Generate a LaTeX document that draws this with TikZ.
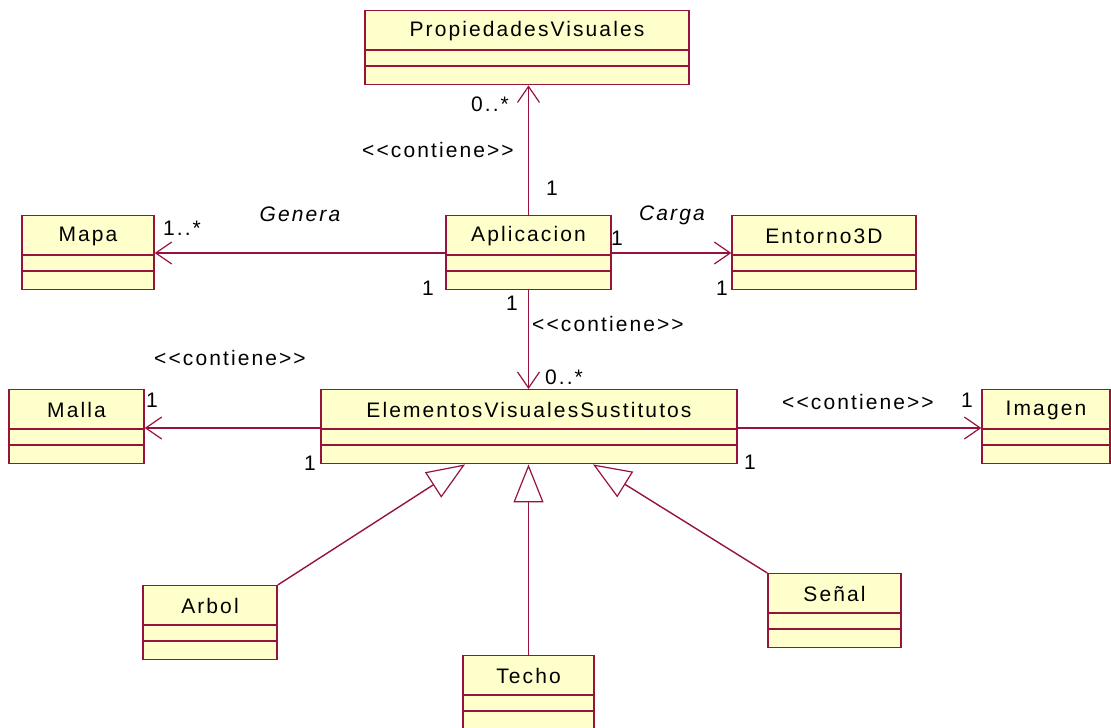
\documentclass[tikz,border=0pt]{standalone}
\usepackage{fontspec}
\setmainfont{Liberation Sans}[LetterSpace=10, Ligatures=TeXOff]
\usetikzlibrary{arrows.meta}
\definecolor{umlborder}{RGB}{150,20,60}
\definecolor{umlfill}{RGB}{255,255,204}
\tikzset{
  classbox/.style={draw=umlborder, fill=umlfill, line width=1.4pt, inner sep=0pt, anchor=north},
  compline/.style={draw=umlborder, line width=1.4pt},
  classname/.style={font=\fontsize{21}{24}\selectfont, inner sep=0pt},
  lbl/.style={font=\fontsize{21}{24}\selectfont, inner sep=0pt},
  rolelbl/.style={font=\fontsize{21}{24}\selectfont\itshape, inner sep=0pt},
  assoc/.style={draw=umlborder, line width=1.4pt,
    -{Straight Barb[length=16pt,width=22pt,line width=1.2pt]}},
  gener/.style={draw=umlborder, line width=1.4pt,
    -{Triangle[open,length=38pt,width=30pt,line width=1.2pt]}},
}
% class box: name, centre x, top y, width, title
\newcommand\umlclass[5]{%
  \node[classbox, minimum width=#4pt, minimum height=74pt] (#1) at (#2,#3) {};
  \draw[compline] ([yshift=-40pt]#1.north west) -- ([yshift=-40pt]#1.north east);
  \draw[compline] ([yshift=-56pt]#1.north west) -- ([yshift=-56pt]#1.north east);
  \node[classname] (#1-title) at ([yshift=-21pt]#1.north) {#5};
}
\begin{document}
\begin{tikzpicture}[x=1pt, y=-1pt]
\useasboundingbox (0,0) rectangle (1111,728);
\fill[white] (0,0) rectangle (1111,728);

\umlclass{prop}{527}{10}{324}{PropiedadesVisuales}
\umlclass{mapa}{88}{215}{132}{Mapa}
\umlclass{app}{528.5}{215}{165}{Aplicacion}
\umlclass{ent}{824}{215}{184}{Entorno3D}
\umlclass{malla}{76.5}{389}{135}{Malla}
\umlclass{evs}{529}{389}{416}{ElementosVisualesSustitutos}
\umlclass{img}{1046}{389}{128}{Imagen}
\umlclass{arbol}{210}{585}{134}{Arbol}
\umlclass{techo}{528.5}{655}{131}{Techo}
\umlclass{senal}{834.5}{573}{133}{Señal}

% associations
\draw[assoc] (app.north) -- (app.north |- prop.south);
\draw[assoc] ([yshift=-38pt]app.north west) -- ([yshift=-38pt]mapa.north east);
\draw[assoc] ([yshift=-38pt]app.north east) -- ([yshift=-38pt]ent.north west);
\draw[assoc] (app.south) -- (app.south |- evs.north);
\draw[assoc] ([yshift=-39pt]evs.north west) -- ([yshift=-39pt]malla.north east);
\draw[assoc] ([yshift=-39pt]evs.north east) -- ([yshift=-39pt]img.north west);

% generalizations
\draw[gener] (arbol.north east) -- ([xshift=-64pt]evs.south);
\draw[gener] (techo.north) -- (techo.north |- evs.south);
\draw[gener] (senal.north west) -- ([xshift=64pt]evs.south);

% association labels
\node[lbl] (l1) at (490,104) {0..*};
\node[lbl] (l2) at (438,150) {<<contiene>>};
\node[lbl] (l3) at (552,188) {1};
\node[rolelbl] (l4) at (300,214) {Genera};
\node[lbl] (l5) at (182,228) {1..*};
\node[lbl] (l6) at (428,288) {1};
\node[lbl] (l7) at (617,238) {1};
\node[rolelbl] (l8) at (672,215) {Carga};
\node[lbl] (l9) at (722,288) {1};
\node[lbl] (l10) at (512,303) {1};
\node[lbl] (l11) at (608,324) {<<contiene>>};
\node[lbl] (l12) at (564,377) {0..*};
\node[lbl] (l13) at (230,358) {<<contiene>>};
\node[lbl] (l14) at (152,400) {1};
\node[lbl] (l15) at (310,463) {1};
\node[lbl] (l16) at (750,462) {1};
\node[lbl] (l17) at (858,402) {<<contiene>>};
\node[lbl] (l18) at (967,400) {1};
\end{tikzpicture}
\end{document}
